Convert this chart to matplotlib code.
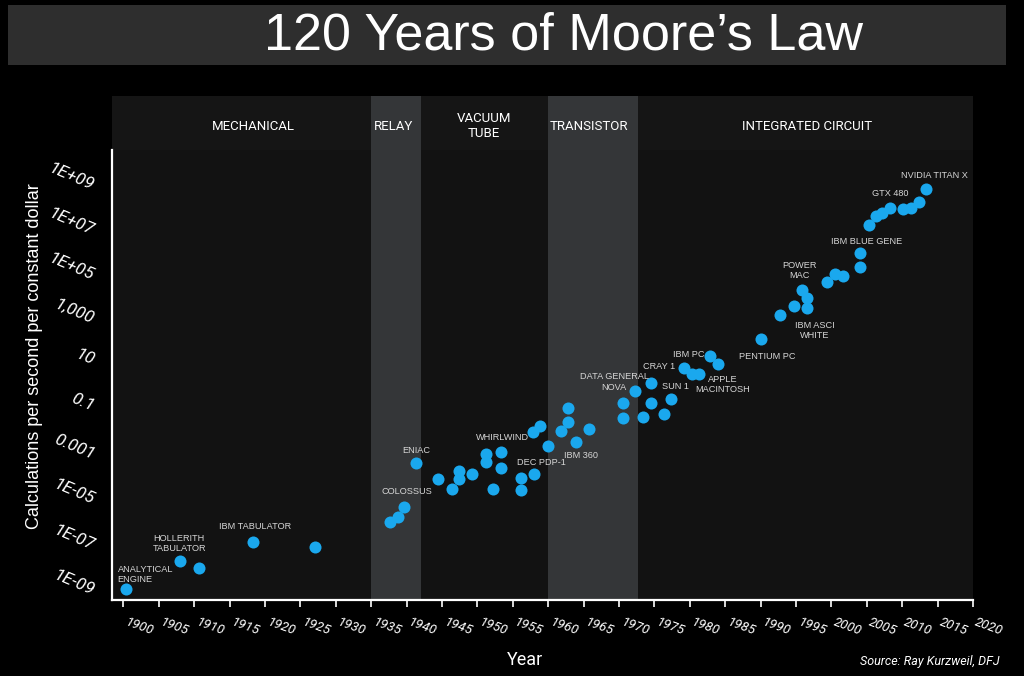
import matplotlib
matplotlib.use("Agg")
import matplotlib.pyplot as plt

W, H = 1024, 676
BLUE = "#1aa8ee"
BAND = "#343638"
PANEL = "#121212"
LABEL = "#d6d6d6"
NARROW = ["Roboto", "DejaVu Sans"]
plt.rcParams.update({"font.family": ["Liberation Sans", "DejaVu Sans"]})

# calculations per second per constant dollar
years = [1900.4, 1908.0, 1910.7, 1918.3, 1927.0,
         1937.6, 1938.8, 1939.6, 1941.4, 1944.5, 1946.4, 1947.4, 1947.4,
         1949.3, 1951.2, 1951.2, 1952.2, 1953.4, 1953.4, 1956.1, 1956.1,
         1958.0, 1957.9, 1958.9, 1960.0, 1961.8, 1962.8, 1962.8, 1963.9,
         1965.8, 1970.5, 1970.5, 1972.3, 1973.4, 1974.5, 1974.5, 1976.4,
         1977.4, 1979.2, 1980.3, 1981.3, 1982.9, 1984.0, 1990.0, 1992.7,
         1994.7, 1995.9, 1996.6, 1996.6, 1999.4, 2000.5, 2001.7, 2004.0,
         2004.0, 2005.3, 2006.3, 2007.2, 2008.3, 2010.1, 2011.2, 2012.4,
         2013.4]
calcs = [5.2e-10, 9.5e-09, 4.5e-09, 6.8e-08, 4.1e-08,
         5.1e-07, 8.7e-07, 2.4e-06, 2.1e-04, 3.9e-05, 1.5e-05, 9.1e-05, 4.1e-05,
         6.8e-05, 5.0e-04, 2.2e-04, 1.5e-05, 6.6e-04, 1.2e-04, 4.4e-05, 1.3e-05,
         6.6e-05, 4.8e-03, 9.3e-03, 1.2e-03, 5.6e-03, 1.4e-02, 5.9e-02, 1.7e-03,
         6.5e-03, 9.8e-02, 2.1e-02, 3.3e-01, 2.3e-02, 7.1e-01, 9.8e-02, 3.0e-02,
         1.4e-01, 3.3, 1.9, 1.8, 11.5, 5.1, 63, 740,
         2.0e3, 9.8e3, 4.2e3, 1.5e3, 2.3e4, 4.8e4, 4.1e4, 1.0e5,
         4.2e5, 7.4e6, 1.9e7, 2.6e7, 4.1e7, 3.7e7, 4.1e7, 8.1e7,
         3.0e8]

# machine names and where their captions sit
names = ["ANALYTICAL\nENGINE", "HOLLERITH\nTABULATOR", "IBM TABULATOR",
         "COLOSSUS", "ENIAC", "WHIRLWIND", "DEC PDP-1", "IBM 360",
         "DATA GENERAL\nNOVA", "CRAY 1", "SUN 1", "IBM PC",
         "APPLE\nMACINTOSH", "PENTIUM PC", "POWER\nMAC", "IBM ASCI\nWHITE",
         "IBM BLUE GENE", "GTX 480", "NVIDIA TITAN X"]
name_year = [1899.2, 1907.9, 1918.6, 1940.0, 1941.4, 1953.6, 1959.1, 1964.7,
             1969.3, 1975.7, 1978.0, 1979.8, 1984.7, 1991.0, 1995.5, 1997.6,
             2005.0, 2008.3, 2014.5]
name_calc = [10**-8.61, 10**-7.27, 10**-6.48, 10**-4.96, 10**-3.11,
             10**-2.54, 10**-3.67, 10**-3.33, 10**-0.09, 10**0.59, 10**-0.30,
             10**1.11, 10**-0.19, 10**1.03, 10**4.85, 10**2.19, 10**6.16,
             10**8.25, 10**9.09]

eras = ["MECHANICAL", "RELAY", "VACUUM\nTUBE", "TRANSISTOR", "INTEGRATED CIRCUIT"]
era_mid = [1918.3, 1938.2, 1950.9, 1965.8, 1996.5]
shaded = [(1935, 1942), (1960, 1972.7)]

yticks = [1e9, 1e7, 1e5, 1e3, 10, 0.1, 1e-3, 1e-5, 1e-7, 1e-9]
ytick_labels = ["1E+09", "1E+07", "1E+05", "1,000", "10", "0.1", "0.001",
                "1E-05", "1E-07", "1E-09"]
xticks = list(range(1900, 2021, 5))

XLIM = (1898.4, 2020)
YLIM = (10**-9.76, 10**10.2)


def frac(x0, y0, x1, y1):
    return [x0 / W, 1 - y1 / H, (x1 - x0) / W, (y1 - y0) / H]


fig = plt.figure(figsize=(W / 100, H / 100), dpi=100, facecolor="black")

# title bar
tb = fig.add_axes(frac(8, 5, 1006, 65))
tb.set_facecolor("#2e2e2e")
tb.set_xticks([]); tb.set_yticks([])
for s in tb.spines.values():
    s.set_visible(False)
fig.text(564 / W, 1 - 36 / H, "120 Years of Moore\u2019s Law", color="white",
         fontsize=37.5, ha="center", va="center")

# era header
hd = fig.add_axes(frac(112, 96, 973, 150))
hd.set_facecolor("#151515")
hd.set_xlim(*XLIM); hd.set_ylim(0, 1)
hd.set_xticks([]); hd.set_yticks([])
for s in hd.spines.values():
    s.set_visible(False)
for a, b in shaded:
    hd.axvspan(a, b, color=BAND, lw=0)
for name, x in zip(eras, era_mid):
    hd.text(x, 0.44, name, color="white", fontsize=9.5, family=NARROW,
            ha="center", va="center", linespacing=1.2)

# main panel
ax = fig.add_axes(frac(112, 150, 973, 600))
ax.set_facecolor(PANEL)
ax.set_yscale("log")
ax.set_xlim(*XLIM); ax.set_ylim(*YLIM)
for a, b in shaded:
    ax.axvspan(a, b, color=BAND, lw=0, zorder=0)
ax.scatter(years, calcs, s=75, color=BLUE, lw=0, zorder=3)

for n, x, y in zip(names, name_year, name_calc):
    ha = "left" if n.startswith("ANALYTICAL") else "center"
    ax.text(x, y, n, color=LABEL, fontsize=6.6, ha=ha, va="center",
            linespacing=1.15, zorder=4)

ax.set_yticks(yticks)
ax.set_yticklabels(ytick_labels)
ax.minorticks_off()
ax.tick_params(axis="y", length=0, pad=11, colors="white")
for t in ax.get_yticklabels():
    t.set_rotation(-23); t.set_fontstyle("italic")
    t.set_family(NARROW); t.set_fontsize(12.5)
    t.set_va("center")

ax.set_xticks(xticks)
ax.set_xticklabels([str(x) for x in xticks])
ax.tick_params(axis="x", length=5, width=1.2, colors="white", pad=6)
for t in ax.get_xticklabels():
    t.set_rotation(-20); t.set_ha("left"); t.set_va("top")
    t.set_fontstyle("italic"); t.set_family(NARROW); t.set_fontsize(9.5)

for s in ("top", "right"):
    ax.spines[s].set_visible(False)
for s in ("left", "bottom"):
    ax.spines[s].set_color("white")
    ax.spines[s].set_linewidth(1.6)

fig.text(35 / W, 1 - 356 / H, "Calculations per second per constant dollar",
         color="white", fontsize=13, rotation=90, ha="center", va="center")
fig.text(525 / W, 1 - 660 / H, "Year", color="white", fontsize=13,
         family=NARROW, ha="center", va="center")
fig.text(1000 / W, 1 - 662 / H, "Source: Ray Kurzweil, DFJ", color="white",
         fontsize=9, family=NARROW, style="italic", ha="right", va="center")

fig.savefig("out.png", dpi=100, facecolor="black")
